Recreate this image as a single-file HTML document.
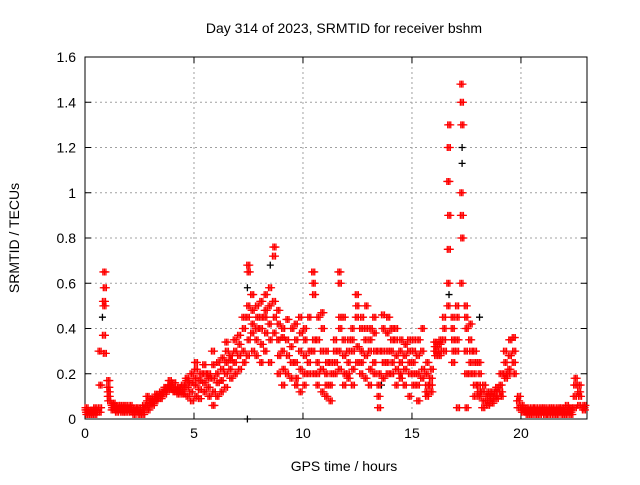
<!DOCTYPE html>
<html><head><meta charset="utf-8"><style>
body{margin:0;background:#fff}
svg text{font-family:"Liberation Sans",sans-serif;font-size:14px;fill:#000}
</style></head><body>
<svg id="c" width="640" height="480">
<text x="344" y="33" text-anchor="middle">Day 314 of 2023, SRMTID for receiver bshm</text>
<text x="344" y="471" text-anchor="middle">GPS time / hours</text>
<text transform="translate(19,238) rotate(-90)" text-anchor="middle">SRMTID / TECUs</text>
<g id="grid"></g><g id="axes"></g><g id="marks"></g>
</svg>
<script>
const xTicks=[0,5,10,15,20];
const yTicks=[0,0.2,0.4,0.6,0.8,1,1.2,1.4,1.6];
const yTickLabels=["0","0.2","0.4","0.6","0.8","1","1.2","1.4","1.6"];
const hours=[0.0,0.2,0.4,0.6,0.8,1.0,1.2,1.4,1.6,1.8,2.0,2.2,2.4,2.6,2.8,3.0,3.2,3.4,3.6,3.8,4.0,4.2,4.4,4.6,4.8,5.0,5.2,5.4,5.6,5.8,6.0,6.2,6.4,6.6,6.8,7.0,7.2,7.4,7.6,7.8,8.0,8.2,8.4,8.6,8.8,9.0,9.2,9.4,9.6,9.8,10.0,10.2,10.4,10.6,10.8,11.0,11.2,11.4,11.6,11.8,12.0,12.2,12.4,12.6,12.8,13.0,13.2,13.4,13.6,13.8,14.0,14.2,14.4,14.6,14.8,15.0,15.2,15.4,15.6,15.8,16.0,16.2,16.4,16.6,16.8,17.0,17.2,17.4,17.6,17.8,18.0,18.2,18.4,18.6,18.8,19.0,19.2,19.4,19.6,19.8,20.0,20.2,20.4,20.6,20.8,21.0,21.2,21.4,21.6,21.8,22.0,22.2,22.4,22.6,22.8];
const values=[[0.05,0.03,0.02,0.04],[0.03,0.02,0.04,0.03],[0.02,0.04,0.03,0.05],[0.03,0.05,0.15,0.3],[0.52,0.65,0.58,0.37,0.5,0.29],[0.17,0.12,0.08,0.14,0.1],[0.06,0.05,0.07,0.04],[0.05,0.04,0.06,0.03],[0.04,0.05,0.03,0.06],[0.05,0.03,0.04,0.06],[0.04,0.06,0.03,0.05],[0.03,0.05,0.04,0.02],[0.04,0.03,0.02,0.05],[0.03,0.05,0.06,0.02],[0.06,0.08,0.04,0.1],[0.07,0.09,0.06,0.08],[0.08,0.1,0.09,0.11],[0.1,0.12,0.11,0.09],[0.12,0.14,0.13,0.11],[0.15,0.17,0.14,0.13],[0.13,0.16,0.12,0.14],[0.12,0.11,0.14,0.13],[0.13,0.15,0.11,0.12],[0.14,0.17,0.1,0.18],[0.12,0.2,0.08,0.16],[0.15,0.22,0.1,0.18,0.25],[0.13,0.17,0.2,0.09],[0.16,0.12,0.2,0.24],[0.14,0.2,0.1,0.18],[0.18,0.24,0.12,0.3,0.06],[0.2,0.16,0.25,0.1],[0.17,0.22,0.27,0.12],[0.2,0.25,0.3,0.14,0.34],[0.22,0.28,0.18,0.26],[0.25,0.3,0.2,0.35],[0.28,0.33,0.22,0.37],[0.3,0.4,0.25,0.45],[0.45,0.5,0.35,0.28,0.68,0.65],[0.38,0.48,0.3,0.55,0.42],[0.35,0.5,0.45,0.28,0.4],[0.4,0.52,0.33,0.45,0.25],[0.45,0.55,0.38,0.3,0.48],[0.5,0.58,0.35,0.42,0.25],[0.72,0.76,0.45,0.52,0.38],[0.35,0.42,0.28,0.48,0.2],[0.3,0.4,0.22,0.36,0.15],[0.35,0.44,0.28,0.2],[0.32,0.25,0.4,0.18],[0.25,0.35,0.18,0.42,0.15],[0.3,0.22,0.38,0.45,0.12],[0.2,0.28,0.35,0.15,0.4],[0.25,0.45,0.3,0.2],[0.65,0.6,0.55,0.3,0.2,0.35],[0.25,0.35,0.45,0.15,0.2],[0.3,0.47,0.4,0.22,0.12],[0.2,0.15,0.25,0.1,0.3],[0.15,0.25,0.2,0.08],[0.3,0.2,0.25,0.35],[0.65,0.6,0.45,0.3,0.22,0.4],[0.35,0.28,0.2,0.45,0.15],[0.3,0.25,0.35,0.2,0.18],[0.4,0.3,0.22,0.35,0.15],[0.55,0.5,0.32,0.45,0.25],[0.4,0.3,0.45,0.2,0.25],[0.35,0.28,0.5,0.18,0.4],[0.3,0.22,0.4,0.15,0.35],[0.45,0.38,0.3,0.25,0.2],[0.1,0.05,0.2,0.15,0.3],[0.3,0.4,0.25,0.46,0.18],[0.38,0.3,0.45,0.25,0.2],[0.3,0.35,0.25,0.4,0.2],[0.35,0.28,0.22,0.4,0.15],[0.3,0.25,0.35,0.2,0.18],[0.28,0.22,0.33,0.15],[0.3,0.25,0.2,0.35,0.1],[0.25,0.3,0.2,0.15,0.35],[0.28,0.2,0.35,0.15,0.08],[0.3,0.4,0.22,0.18],[0.2,0.15,0.25,0.12,0.1],[0.18,0.12,0.22,0.15],[0.3,0.32,0.28,0.34],[0.33,0.3,0.35,0.28],[0.35,0.4,0.3,0.45],[0.6,0.75,0.9,1.05,1.2,1.3,0.5],[0.4,0.25,0.3,0.45,0.35],[0.3,0.35,0.05,0.5,0.45],[1.48,1.4,1.3,1.0,0.9,0.8,0.6],[0.5,0.45,0.4,0.3,0.2,0.05],[0.35,0.42,0.3,0.2,0.25],[0.2,0.15,0.25,0.1,0.3],[0.15,0.1,0.2,0.12,0.25],[0.12,0.08,0.15,0.05],[0.1,0.06,0.12,0.08],[0.1,0.07,0.12,0.09],[0.12,0.09,0.14,0.1],[0.15,0.12,0.1,0.2],[0.2,0.25,0.18,0.3],[0.22,0.28,0.35,0.2],[0.25,0.3,0.2,0.36],[0.08,0.05,0.1],[0.05,0.03,0.04,0.06],[0.03,0.05,0.02,0.04],[0.04,0.02,0.05,0.03],[0.03,0.05,0.02,0.04],[0.04,0.03,0.05,0.02],[0.03,0.05,0.02,0.04],[0.04,0.02,0.05,0.03],[0.03,0.05,0.02,0.04],[0.04,0.03,0.05,0.02],[0.03,0.05,0.02,0.04],[0.04,0.02,0.06,0.03],[0.03,0.05,0.02,0.04],[0.1,0.15,0.18,0.05],[0.12,0.15,0.1,0.06],[0.05,0.04,0.06]];
const blackHours=[0.8,7.45,7.45,8.5,17.3,17.3,18.1,13.6,16.7];
const blackValues=[0.45,0.58,0.0,0.68,1.2,1.13,0.45,0.15,0.55];
const L=85,R=587,T=57,B=419;
const xs=h=>L+(h/23.03)*(R-L);
const ys=v=>B-(v/1.6)*(B-T);
const NS="http://www.w3.org/2000/svg";
function mk(tag,attrs,parent){const e=document.createElementNS(NS,tag);for(const k in attrs)e.setAttribute(k,attrs[k]);parent.appendChild(e);return e;}
const grid=document.getElementById('grid'),axes=document.getElementById('axes'),marks=document.getElementById('marks');
yTicks.forEach((v,i)=>{const y=ys(v);
 if(i>0&&i<yTicks.length-1){const g=mk('line',{x1:L,x2:R,y1:y,y2:y,stroke:'#a0a0a0','stroke-dasharray':'2,3'},grid);
 
 }
 mk('line',{x1:L,x2:L+6,y1:y,y2:y,stroke:'#000'},axes);mk('line',{x1:R,x2:R-6,y1:y,y2:y,stroke:'#000'},axes);
 const t=mk('text',{x:L-9,y:y+5,'text-anchor':'end'},axes);t.textContent=yTickLabels[i];
 
 });
xTicks.forEach(h=>{const x=xs(h);
 if(h>0){const g=mk('line',{x1:x,x2:x,y1:T,y2:B,stroke:'#a0a0a0','stroke-dasharray':'2,3'},grid);
 
 }
 mk('line',{x1:x,x2:x,y1:B,y2:B-6,stroke:'#000'},axes);mk('line',{x1:x,x2:x,y1:T,y2:T+6,stroke:'#000'},axes);
 const t=mk('text',{x:x,y:B+19,'text-anchor':'middle'},axes);t.textContent=String(h);
 
 });
const frame=mk('rect',{x:L,y:T,width:R-L,height:B-T,fill:'none',stroke:'#000'},axes);


function plus(x,y,col,name){const p=mk('path',{d:`M${x-3.5},${y}h7M${x},${y-3.5}v7`,stroke:col,'stroke-width':1.3,fill:'none'},marks);
 
 }
blackHours.forEach((h,i)=>plus(xs(h),ys(blackValues[i]),'#000','black-point'));
const spread=[0,0.07,0.14];
hours.forEach((h,i)=>values[i].forEach((v,k)=>spread.forEach(o=>plus(xs(h+o+(k%3)*0.02),ys(v),'#f00','srmtid-point'))));
</script>
</body></html>
